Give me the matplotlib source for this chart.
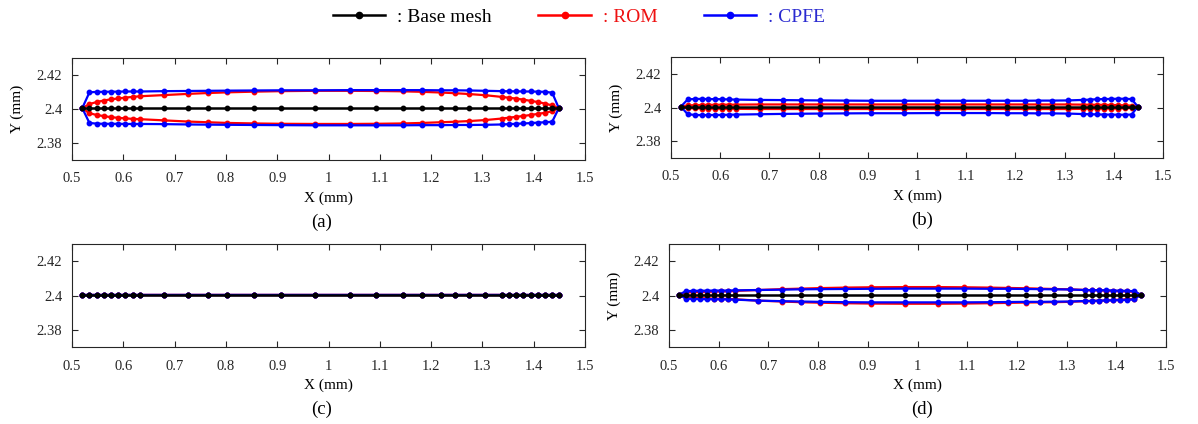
import numpy as np
import matplotlib
matplotlib.use("Agg")
import matplotlib.pyplot as plt
from matplotlib.lines import Line2D
from matplotlib.ticker import FormatStrFormatter

plt.rcParams['font.family'] = ['Liberation Serif', 'DejaVu Serif']

# node x positions along the crack line (mm)
x_nodes = [0.520, 0.534, 0.548, 0.562, 0.576, 0.590, 0.604, 0.618, 0.633,
           0.680, 0.727, 0.765, 0.803, 0.855, 0.907, 0.974, 1.041, 1.093,
           1.145, 1.182, 1.219, 1.246, 1.274, 1.306,
           1.338, 1.352, 1.366, 1.380, 1.394, 1.408, 1.422, 1.436, 1.449]

base_y = [2.4005] * len(x_nodes)

# (a)
rom_top_a = [2.4005, 2.4029, 2.4041, 2.4050, 2.4057, 2.4062, 2.4067, 2.4071, 2.4075,
             2.4082, 2.4089, 2.4094, 2.4098, 2.4102, 2.4105, 2.4107, 2.4107, 2.4106,
             2.4104, 2.4101, 2.4097, 2.4093, 2.4088, 2.4081,
             2.4071, 2.4066, 2.4061, 2.4055, 2.4048, 2.4041, 2.4032, 2.4021, 2.4005]
rom_bot_a = [2.4005, 2.3975, 2.3965, 2.3958, 2.3952, 2.3948, 2.3945, 2.3942, 2.3940,
             2.3933, 2.3926, 2.3922, 2.3918, 2.3915, 2.3913, 2.3912, 2.3912, 2.3913,
             2.3915, 2.3918, 2.3922, 2.3925, 2.3929, 2.3935,
             2.3944, 2.3949, 2.3954, 2.3959, 2.3965, 2.3971, 2.3978, 2.3987, 2.4005]
cpfe_top_a = [2.4005, 2.4098, 2.4101, 2.4101, 2.4102, 2.4102, 2.4103, 2.4103, 2.4103,
              2.4105, 2.4106, 2.4107, 2.4108, 2.4109, 2.4110, 2.4110, 2.4111, 2.4111,
              2.4111, 2.4111, 2.4110, 2.4110, 2.4109, 2.4107,
              2.4105, 2.4104, 2.4104, 2.4103, 2.4103, 2.4102, 2.4101, 2.4096, 2.4005]
cpfe_bot_a = [2.4005, 2.3918, 2.3914, 2.3913, 2.3913, 2.3913, 2.3912, 2.3912, 2.3912,
              2.3911, 2.3909, 2.3908, 2.3907, 2.3906, 2.3905, 2.3904, 2.3904, 2.3904,
              2.3904, 2.3905, 2.3905, 2.3906, 2.3906, 2.3907,
              2.3909, 2.3911, 2.3913, 2.3915, 2.3917, 2.3920, 2.3922, 2.3925, 2.4005]

# (b)
rom_top_b = [2.4005, 2.4012, 2.4014, 2.4015, 2.4016, 2.4016, 2.4017, 2.4017, 2.4017,
             2.4018, 2.4018, 2.4018, 2.4018, 2.4018, 2.4018, 2.4018, 2.4018, 2.4018,
             2.4018, 2.4018, 2.4018, 2.4018, 2.4018, 2.4018,
             2.4017, 2.4017, 2.4016, 2.4016, 2.4015, 2.4014, 2.4013, 2.4011, 2.4005]
rom_bot_b = [2.4005, 2.3997, 2.3995, 2.3994, 2.3993, 2.3993, 2.3992, 2.3992, 2.3992,
             2.3991, 2.3991, 2.3991, 2.3991, 2.3991, 2.3991, 2.3991, 2.3991, 2.3991,
             2.3991, 2.3991, 2.3991, 2.3991, 2.3991, 2.3991,
             2.3992, 2.3992, 2.3992, 2.3993, 2.3993, 2.3994, 2.3995, 2.3997, 2.4005]
cpfe_top_b = [2.4005, 2.4048, 2.4051, 2.4051, 2.4050, 2.4050, 2.4049, 2.4048, 2.4047,
              2.4045, 2.4044, 2.4043, 2.4042, 2.4041, 2.4040, 2.4040, 2.4040, 2.4040,
              2.4040, 2.4040, 2.4040, 2.4041, 2.4041, 2.4042,
              2.4045, 2.4047, 2.4049, 2.4050, 2.4051, 2.4052, 2.4052, 2.4050, 2.4005]
cpfe_bot_b = [2.4005, 2.3960, 2.3956, 2.3955, 2.3955, 2.3956, 2.3956, 2.3957, 2.3958,
              2.3960, 2.3962, 2.3963, 2.3964, 2.3965, 2.3966, 2.3966, 2.3967, 2.3967,
              2.3967, 2.3966, 2.3966, 2.3965, 2.3965, 2.3964,
              2.3961, 2.3960, 2.3959, 2.3958, 2.3958, 2.3957, 2.3957, 2.3958, 2.4005]

# (c) - no opening, everything sits on the base mesh
rom_top_c = base_y
rom_bot_c = base_y
cpfe_top_c = base_y
cpfe_bot_c = base_y

# (d)
rom_top_d = [2.4005, 2.4018, 2.4020, 2.4021, 2.4022, 2.4023, 2.4024, 2.4025, 2.4027,
             2.4032, 2.4037, 2.4040, 2.4043, 2.4046, 2.4048, 2.4049, 2.4049, 2.4048,
             2.4046, 2.4044, 2.4042, 2.4040, 2.4038, 2.4036,
             2.4032, 2.4031, 2.4030, 2.4029, 2.4027, 2.4026, 2.4024, 2.4022, 2.4005]
rom_bot_d = [2.4005, 2.3988, 2.3985, 2.3984, 2.3983, 2.3982, 2.3981, 2.3980, 2.3978,
             2.3970, 2.3965, 2.3961, 2.3958, 2.3955, 2.3953, 2.3952, 2.3952, 2.3953,
             2.3955, 2.3957, 2.3959, 2.3960, 2.3961, 2.3963,
             2.3967, 2.3968, 2.3970, 2.3972, 2.3974, 2.3976, 2.3978, 2.3981, 2.4005]
cpfe_top_d = [2.4005, 2.4025, 2.4027, 2.4028, 2.4028, 2.4029, 2.4029, 2.4029, 2.4030,
              2.4032, 2.4034, 2.4036, 2.4037, 2.4038, 2.4039, 2.4040, 2.4040, 2.4040,
              2.4039, 2.4039, 2.4038, 2.4037, 2.4036, 2.4035,
              2.4032, 2.4031, 2.4031, 2.4030, 2.4029, 2.4028, 2.4027, 2.4025, 2.4005]
cpfe_bot_d = [2.4005, 2.3982, 2.3980, 2.3979, 2.3979, 2.3978, 2.3978, 2.3977, 2.3976,
              2.3970, 2.3967, 2.3965, 2.3963, 2.3961, 2.3960, 2.3960, 2.3960, 2.3960,
              2.3961, 2.3962, 2.3963, 2.3963, 2.3964, 2.3965,
              2.3968, 2.3969, 2.3970, 2.3971, 2.3972, 2.3974, 2.3975, 2.3977, 2.4005]

# tag, curves, axes box in pixels (left, top, right, bottom), tag x, show y label
panels = [
    ('(a)', rom_top_a, rom_bot_a, cpfe_top_a, cpfe_bot_a, [72, 58, 585, 160], 322, True),
    ('(b)', rom_top_b, rom_bot_b, cpfe_top_b, cpfe_bot_b, [671, 57, 1163, 158], 922, True),
    ('(c)', rom_top_c, rom_bot_c, cpfe_top_c, cpfe_bot_c, [72, 244, 585, 347], 322, False),
    ('(d)', rom_top_d, rom_bot_d, cpfe_top_d, cpfe_bot_d, [669, 244, 1166, 347], 922, True),
]

x_ticks = [0.5, 0.6, 0.7, 0.8, 0.9, 1.0, 1.1, 1.2, 1.3, 1.4, 1.5]
y_ticks = [2.38, 2.40, 2.42]

W, H = 1198, 424
fig = plt.figure(figsize=(W / 100, H / 100), dpi=100)

RED = '#ff0000'
BLUE = '#0000ff'


def outline(top, bot):
    xs = list(x_nodes) + list(x_nodes)[::-1]
    ys = list(top) + list(bot)[::-1]
    return xs, ys


for tag, rt, rb, ct, cb, (l, t, r, b), tag_x, show_ylabel in panels:
    ax = fig.add_axes([l / W, 1 - b / H, (r - l) / W, (b - t) / H])

    xs, ys = outline(rt, rb)
    ax.plot(xs, ys, '-', color=RED, lw=1.6, marker='o', ms=3.2, mec=RED, mfc=RED, zorder=2)
    xs, ys = outline(ct, cb)
    ax.plot(xs, ys, '-', color=BLUE, lw=1.6, marker='o', ms=3.2, mec=BLUE, mfc=BLUE, zorder=3)
    ax.plot(x_nodes, base_y, '-', color='black', lw=1.8, marker='o', ms=3.2, zorder=4)

    ax.set_xlim(0.5, 1.5)
    ax.set_ylim(2.37, 2.43)
    ax.set_xticks(x_ticks)
    ax.set_yticks(y_ticks)
    ax.xaxis.set_major_formatter(FormatStrFormatter('%g'))
    ax.yaxis.set_major_formatter(FormatStrFormatter('%g'))
    ax.tick_params(direction='in', top=True, right=True, length=4, width=0.8,
                   labelsize=10.5, colors='#262626')
    ax.tick_params(axis='x', pad=9)
    ax.tick_params(axis='y', pad=7)
    for sp in ax.spines.values():
        sp.set_color('#262626')
        sp.set_linewidth(0.8)

    ax.set_xlabel('X (mm)', fontsize=11, labelpad=4)
    if show_ylabel:
        ax.set_ylabel('Y (mm)', fontsize=11, labelpad=9)

    fig.text(tag_x / W, 1 - (b + 62) / H, tag, ha='center', va='center', fontsize=13.5)

# legend along the top
handles = [
    Line2D([], [], color='black', lw=1.8, marker='o', ms=4.5),
    Line2D([], [], color=RED, lw=1.8, marker='o', ms=4.5),
    Line2D([], [], color=BLUE, lw=1.8, marker='o', ms=4.5),
]
labels = [': Base mesh', ': ROM', ': CPFE']
fig.legend(handles, labels, loc='center', bbox_to_anchor=(579 / W, 1 - 17 / H),
           ncol=3, frameon=False, fontsize=14, handlelength=2.7,
           handletextpad=0.6, columnspacing=2.4,
           labelcolor=['black', '#ee1111', '#2a2ad0'])

fig.savefig('out.png', dpi=100)
